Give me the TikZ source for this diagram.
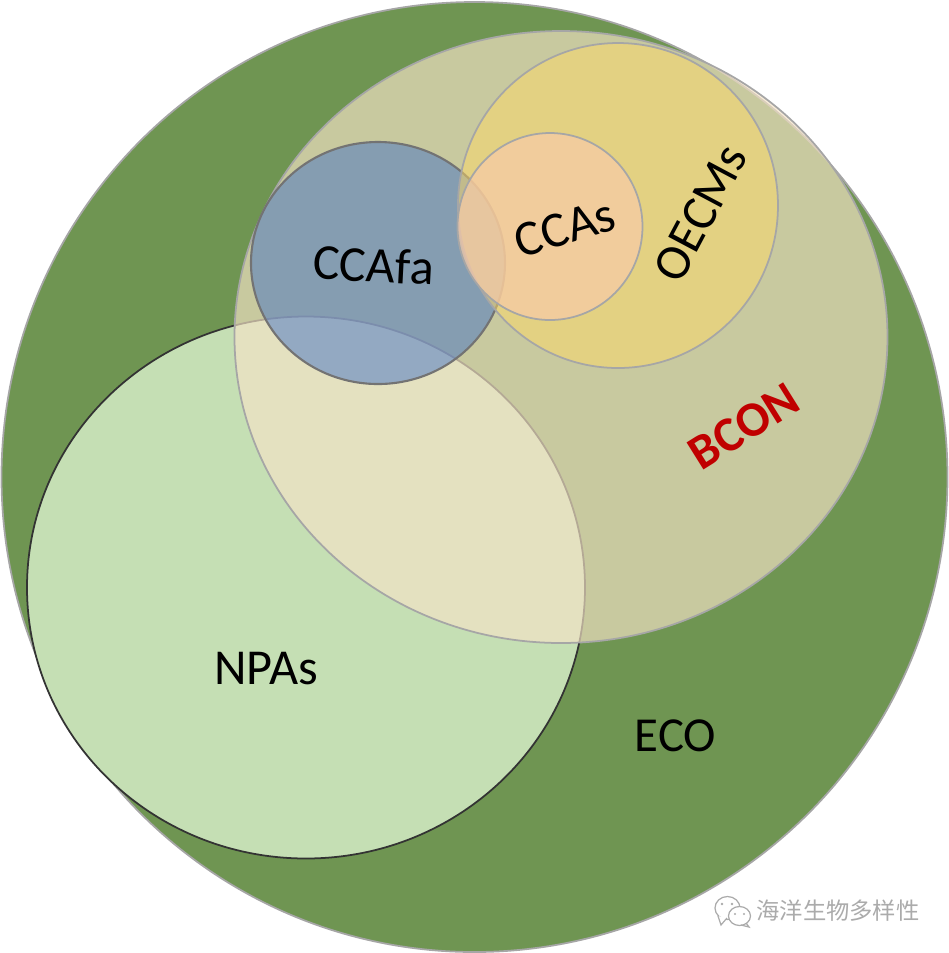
\documentclass[tikz,border=0pt]{standalone}
\usepackage{fontspec}
\setmainfont{Carlito}
\newfontfamily\cjkfont{Noto Sans CJK SC}
\usepackage{xcolor}
\usetikzlibrary{positioning}
\definecolor{ecogreen}{HTML}{6F9552}
\definecolor{npagreen}{HTML}{C5DFB4}
\definecolor{bconsand}{HTML}{F4E3C6}
\definecolor{fablue}{HTML}{4472C4}
\definecolor{oecmyellow}{HTML}{FFD966}
\definecolor{ccaorange}{HTML}{F8CBA8}
\definecolor{bconred}{HTML}{C00000}
\definecolor{wmgray}{HTML}{ABABAB}

\begin{document}
\begin{tikzpicture}[x=0.01cm,y=-0.01cm,every node/.style={align=center,font=\fontsize{14.3}{17}\selectfont},graybd/.style={draw=black!35,line width=0.5pt},tag/.style={inner sep=0pt},wm/.style={draw=wmgray,line width=0.35pt,fill=white}]
\useasboundingbox (0,0) rectangle (949,953);
% regions, back to front
\draw[fill=ecogreen,draw=black!35,line width=0.5pt] (474.5,477) ellipse (473 and 475);
\draw[fill=npagreen,draw=black!80,line width=0.5pt] (306,587.5) ellipse (279 and 271);
\draw[graybd,fill=bconsand,fill opacity=0.67] (561,337) ellipse (326.5 and 306);
\draw[fill=fablue,fill opacity=0.5,draw=black!55,line width=0.6pt] (378,263) ellipse (127 and 121);
\draw[graybd,fill=oecmyellow,fill opacity=0.5] (618,205.5) ellipse (160 and 162.5);
\draw[graybd,fill=ccaorange,fill opacity=0.7] (550,226.5) ellipse (92.5 and 93.5);
% labels
\node[tag,rotate=-3] (ccafa) at (373.5,265) {CCAfa};
\node[tag,rotate=17] (ccas) at (565,228) {CCAs};
\node[tag,rotate=62] (oecms) at (700.5,213) {OECMs};
\node[tag,rotate=32,text=bconred,font=\fontsize{14}{17}\selectfont\bfseries] (bcon) at (744,426) {BCON};
\node[tag] (npas) at (266,669) {NPAs};
\node[tag,font=\fontsize{13.9}{17}\selectfont] (eco) at (675.5,736) {ECO};
% watermark
\draw[wm] (727.5,908) ellipse (12.5 and 11.5);
\draw[wm] (718,916) -- (721,925) -- (727,918);
\draw[wm] (739.5,916) ellipse (11 and 9.5);
\draw[wm,fill=none] (746,923) -- (749,927) -- (741,925);
\fill[wmgray] (722,904) circle (1.3) (732,904) circle (1.3) (735,914) circle (1.1) (744,914) circle (1.1);
\node[tag,text=wmgray,font=\fontsize{6.63}{8}\cjkfont] (mark) at (838,911) {海洋生物多样性};
\end{tikzpicture}
\end{document}
